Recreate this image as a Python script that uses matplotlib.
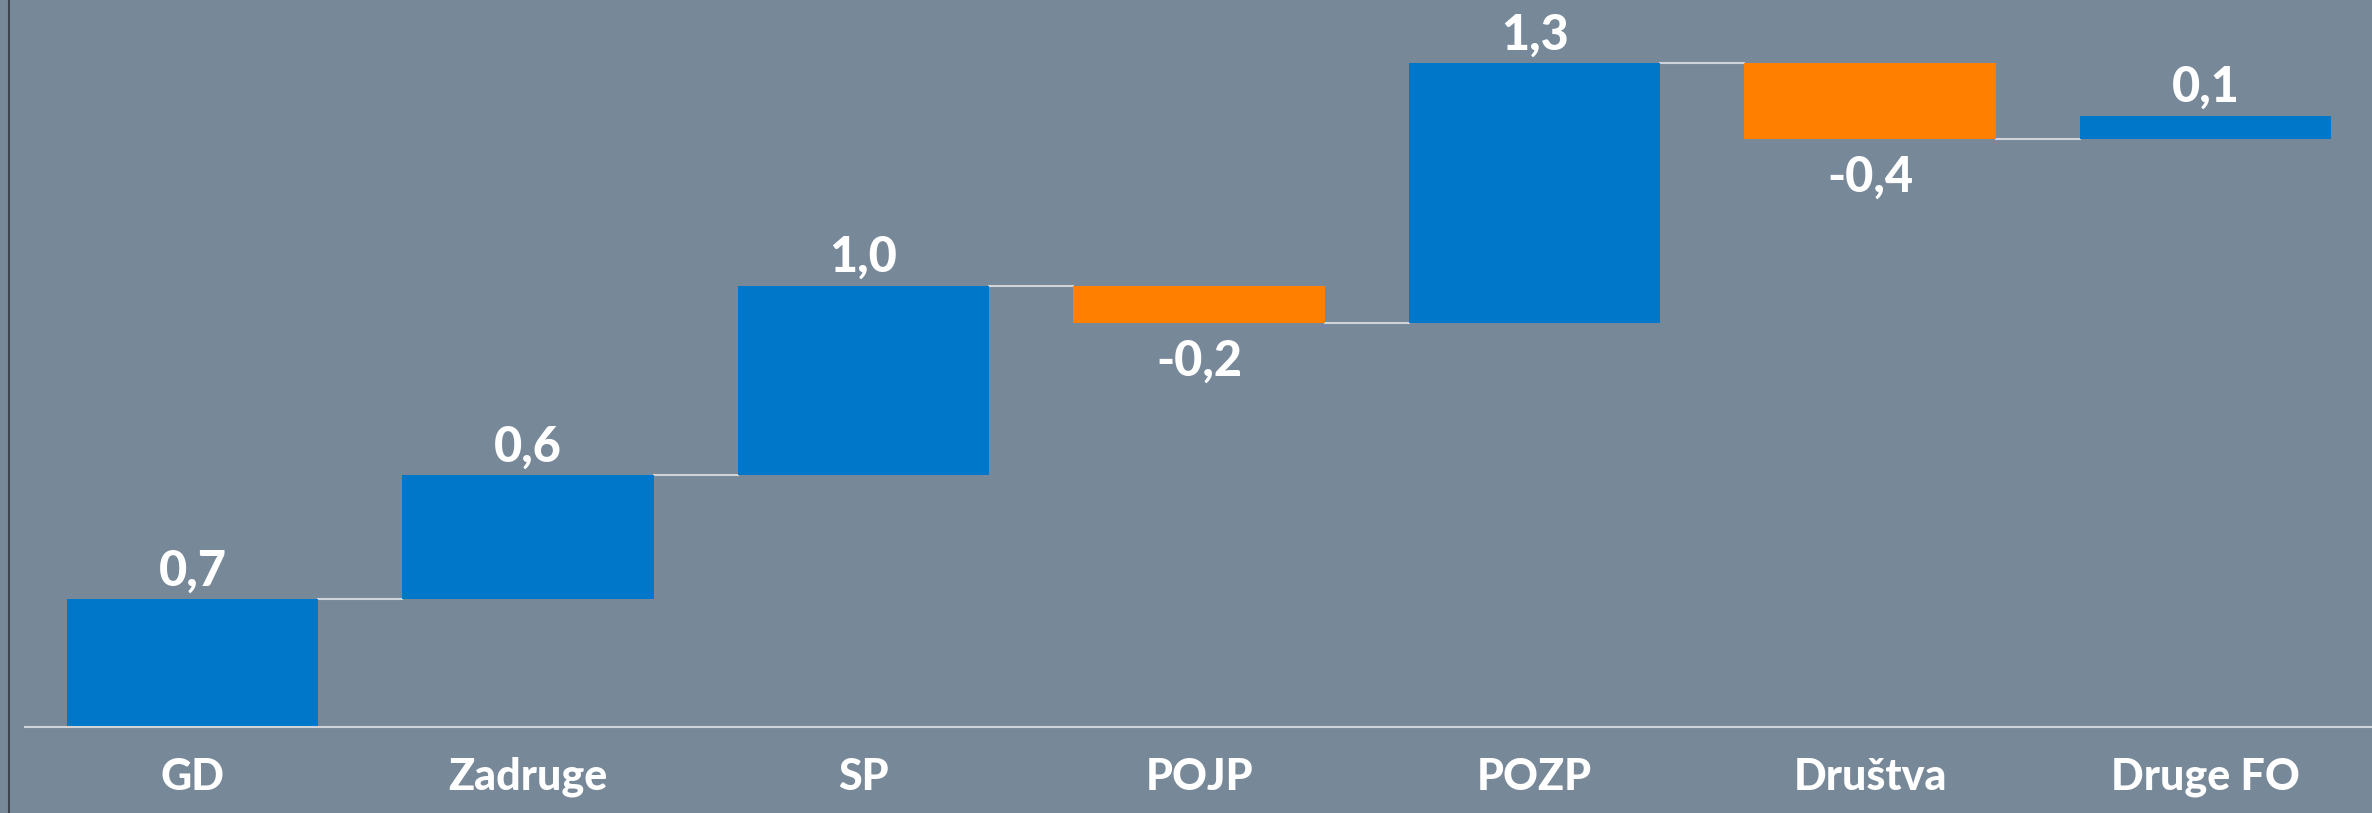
import numpy as np
import matplotlib.pyplot as plt
from matplotlib.lines import Line2D

# Waterfall chart data
categories = ["GD", "Zadruge", "SP", "POJP", "POZP", "Društva", "Druge FO"]
changes = [0.66, 0.64, 0.98, -0.19, 1.34, -0.39, 0.12]

bg = "#778899"
blue = "#0077C8"
orange = "#FF8000"
line_col = "#D0D4D8"

plt.rcParams["font.family"] = ["Lato", "DejaVu Sans"]

fig = plt.figure(figsize=(23.72, 8.13), dpi=100)
fig.patch.set_facecolor(bg)
ax = fig.add_axes([0, 0, 1, 1])
ax.set_facecolor(bg)

x = np.arange(len(categories))
ends = np.cumsum(changes)
starts = ends - np.array(changes)
width = 0.75

for i, (s, c) in enumerate(zip(starts, changes)):
    col = blue if c >= 0 else orange
    ax.bar(x[i], c, bottom=s, width=width, color=col, zorder=2)
    label = f"{c:.1f}".replace(".", ",")
    if c >= 0:
        ax.annotate(label, (x[i], s + c), xytext=(0, 14), textcoords="offset pixels",
                    ha="center", va="baseline", color="white", fontsize=35, fontweight=900)
    else:
        ax.annotate(label, (x[i], s + c), xytext=(0, -16), textcoords="offset pixels",
                    ha="center", va="top", color="white", fontsize=35, fontweight=900)
    # connector to next bar
    if i < len(categories) - 1:
        ax.plot([x[i] + width / 2, x[i + 1] - width / 2], [ends[i], ends[i]],
                color=line_col, lw=1.5, zorder=1)

# baseline
ax.plot([-0.5, 6.5], [0, 0], color=line_col, lw=1.5, zorder=3)

# category labels
for i, name in enumerate(categories):
    ax.annotate(name, (x[i], 0), xytext=(0, -50), textcoords="offset pixels",
                ha="center", va="center", color="white", fontsize=31, fontweight=900)

# pixel mapping: baseline at 727 px from top, ~193.5 px per unit
unit = 193.5
ax.set_xlim(-0.574, 6.496)
ax.set_ylim(-(813 - 727) / unit, 727 / unit)
ax.axis("off")

# dark left border
fig.add_artist(Line2D([8.5 / 2372, 8.5 / 2372], [0, 1], color="#3E4550", lw=1.5,
                      transform=fig.transFigure))

fig.savefig("out.png", dpi=100, facecolor=bg)
